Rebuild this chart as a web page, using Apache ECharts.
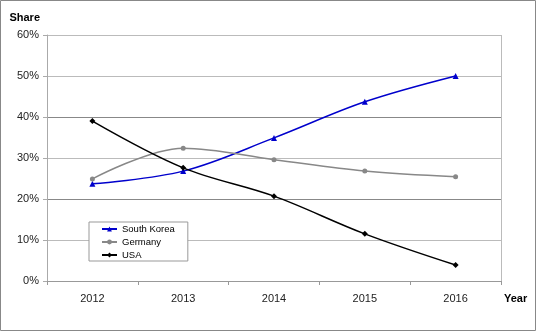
<!DOCTYPE html>
<html><head><meta charset="utf-8">
<script src="https://cdn.jsdelivr.net/npm/echarts@6/dist/echarts.min.js"></script>
<style>html,body{margin:0;padding:0;background:#fff}#c{width:537px;height:332px}</style>
</head><body><div id="c"></div>
<script>
const years = ['2012','2013','2014','2015','2016'];
const southKorea = [23.7, 26.8, 34.9, 43.7, 50.0];
const germany = [24.9, 32.4, 29.6, 26.8, 25.4];
const usa = [39.0, 27.6, 20.7, 11.5, 3.9];
const yTicks = [0, 10, 20, 30, 40, 50, 60];

const chart = echarts.init(document.getElementById('c'));
const font = 'Liberation Sans, Arial, sans-serif';
function mk(name, data, color, symbol, size) {
  return {
    name, type: 'line', data, smooth: 0.35,
    symbol, symbolSize: size,
    lineStyle: { color, width: 1.5 },
    itemStyle: { color },
    emphasis: { disabled: true }
  };
}
chart.setOption({
  animation: false,
  textStyle: { fontFamily: font },
  grid: { left: 47, right: 36, top: 35, bottom: 51 },
  graphic: [
    { type: 'rect', shape: { x: 0.5, y: 0.5, width: 535, height: 330 },
      style: { fill: 'none', stroke: '#888', lineWidth: 1 }, silent: true },
    { type: 'line', shape: { x1: 501.5, y1: 35, x2: 501.5, y2: 281 },
      style: { stroke: '#bbb', lineWidth: 1 }, silent: true }
  ],
  legend: {
    orient: 'vertical', left: 89, top: 222,
    backgroundColor: '#fff', borderColor: '#999', borderWidth: 1,
    padding: [2, 13, 1, 12], itemGap: 3, itemWidth: 15, itemHeight: 6,
    textStyle: { fontSize: 9.5, color: '#000', fontFamily: font },
    data: ['South Korea', 'Germany', 'USA']
  },
  xAxis: {
    type: 'category', data: years, boundaryGap: true,
    name: 'Year', nameLocation: 'end', nameGap: 3,
    nameTextStyle: { fontWeight: 'bold', fontSize: 11, color: '#000', verticalAlign: 'top', padding: [12, 0, 0, 0] },
    axisLine: { lineStyle: { color: '#999' } },
    axisTick: { show: true, length: 4, lineStyle: { color: '#999' } },
    axisLabel: { fontSize: 11, color: '#222', margin: 12 }
  },
  yAxis: {
    type: 'value', min: yTicks[0], max: yTicks[yTicks.length - 1], interval: 10,
    name: 'Share', nameLocation: 'end', nameGap: 12,
    nameTextStyle: { fontWeight: 'bold', fontSize: 11, color: '#000', align: 'right', padding: [0, 7, 0, 0] },
    axisLine: { show: true, lineStyle: { color: '#aaa' } },
    axisTick: { show: true, length: 4, lineStyle: { color: '#aaa' } },
    axisLabel: { fontSize: 11, color: '#222', margin: 8, formatter: v => v + '%' },
    splitLine: { lineStyle: { color: ['#888', '#bbb', '#888', '#bbb', '#888', '#bbb', '#bbb'] } }
  },
  series: [
    mk('South Korea', southKorea, '#0000cc', 'triangle', 6),
    mk('Germany', germany, '#888888', 'circle', 5),
    mk('USA', usa, '#000000', 'diamond', 6)
  ]
});
</script></body></html>
